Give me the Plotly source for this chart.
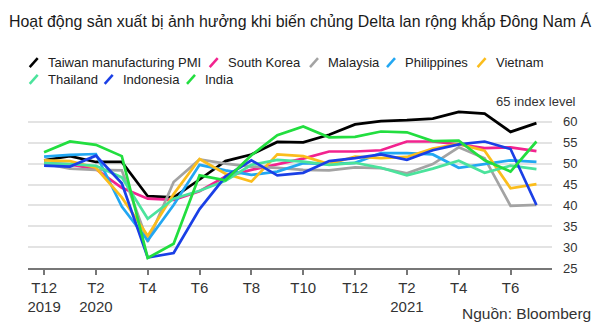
import plotly.graph_objects as go

months = ["2019-12", "2020-01", "2020-02", "2020-03", "2020-04", "2020-05", "2020-06",
          "2020-07", "2020-08", "2020-09", "2020-10", "2020-11", "2020-12", "2021-01",
          "2021-02", "2021-03", "2021-04", "2021-05", "2021-06", "2021-07"]

taiwan = [50.8, 51.8, 50.4, 50.4, 42.2, 41.9, 46.2, 50.6, 52.2, 55.2, 55.1, 56.9, 59.4, 60.2, 60.4, 60.8, 62.4, 62.0, 57.6, 59.7]
south_korea = [50.1, 49.8, 48.7, 44.2, 41.6, 41.3, 43.4, 46.9, 48.5, 49.8, 51.2, 52.9, 52.9, 53.2, 55.3, 55.3, 54.6, 53.7, 53.9, 53.0]
malaysia = [50.0, 48.8, 48.5, 48.4, 31.3, 45.6, 51.0, 50.0, 49.3, 49.0, 48.5, 48.4, 49.1, 48.9, 47.7, 49.9, 53.9, 51.3, 39.9, 40.1]
philippines = [51.7, 52.1, 52.3, 39.7, 31.6, 40.1, 49.7, 48.4, 47.3, 48.1, 50.1, 49.9, 50.2, 52.5, 52.5, 52.2, 49.0, 49.9, 50.8, 50.4]
vietnam = [50.8, 50.6, 49.0, 41.9, 32.7, 42.7, 51.1, 47.6, 45.7, 52.2, 51.8, 49.9, 51.7, 51.3, 51.6, 53.6, 54.7, 53.1, 44.1, 45.1]
thailand = [50.1, 49.9, 49.5, 46.7, 36.8, 41.6, 43.5, 45.9, 49.7, 50.9, 50.5, 49.7, 50.2, 49.0, 47.2, 48.8, 50.7, 47.8, 49.5, 48.7]
indonesia = [49.5, 49.3, 51.9, 45.3, 27.5, 28.6, 39.1, 46.9, 50.8, 47.2, 47.8, 50.6, 51.3, 52.2, 50.9, 53.2, 54.6, 55.3, 53.5, 40.1]
india = [52.7, 55.3, 54.5, 51.8, 27.4, 30.8, 47.2, 46.0, 52.0, 56.8, 58.9, 56.3, 56.4, 57.7, 57.5, 55.4, 55.5, 50.8, 48.1, 55.3]

series_names = ["Taiwan manufacturing PMI", "South Korea", "Malaysia", "Philippines", "Vietnam",
                "Thailand", "Indonesia", "India"]
series_values = [taiwan, south_korea, malaysia, philippines, vietnam, thailand, indonesia, india]
series_colors = ["#000000", "#f2238f", "#a3a3a3", "#22a7f2", "#fbbd1c", "#4be39c", "#1a3fe6", "#22de3f"]

x_tick_pos = [0, 2, 4, 6, 8, 10, 12, 14, 16, 18]
x_tick_text = ["T12<br>2019", "T2<br>2020", "T4", "T6", "T8", "T10", "T12", "T2<br>2021", "T4", "T6"]
y_tick_vals = [25, 30, 35, 40, 45, 50, 55, 60, 65]
y_tick_text = ["25", "30", "35", "40", "45", "50", "55", "60", ""]

title_text = "Hoạt động sản xuất bị ảnh hưởng khi biến chủng Delta lan rộng khắp Đông Nam Á"
source_text = "Nguồn: Bloomberg"
top_label = "65 index level"

W, H = 600, 333
L, R, T, B = 28, 48, 101, 65
PW, PH = W - L - R, H - T - B

def xp(px):
    return (px - L) / PW

def yp(py):
    return (H - B - py) / PH

xidx = list(range(len(months)))

fig = go.Figure()
for name, vals, col in zip(series_names, series_values, series_colors):
    fig.add_trace(go.Scatter(x=xidx, y=vals, mode="lines", name=name,
                             line=dict(color=col, width=2.7), showlegend=False,
                             customdata=months, hovertemplate="%{customdata}: %{y}<extra>" + name + "</extra>"))

# custom legend (slash glyphs + labels)
legend_text_x = [46.7, 226.7, 327, 404, 494.6, 46.7, 121.7, 204]
legend_row = [0, 0, 0, 0, 0, 1, 1, 1]
row_y = [62.7, 79.3]
shapes = []
annotations = []
for name, col, tx, r in zip(series_names, series_colors, legend_text_x, legend_row):
    yc = row_y[r]
    shapes.append(dict(type="line", xref="paper", yref="paper",
                       x0=xp(tx - 17), y0=yp(yc + 4.5), x1=xp(tx - 9), y1=yp(yc - 4.5),
                       line=dict(color=col, width=2.5)))
    annotations.append(dict(text=name, xref="paper", yref="paper", x=xp(tx), y=yp(yc),
                            xanchor="left", yanchor="middle", showarrow=False,
                            font=dict(family="Liberation Sans, Arial, sans-serif", size=13, color="#222"),
                            xshift=-1))

annotations.append(dict(text=top_label, xref="paper", yref="y", x=xp(580), y=65,
                        xanchor="right", yanchor="middle", showarrow=False, bgcolor="white",
                        borderpad=3,
                        font=dict(family="Liberation Sans, Arial, sans-serif", size=13, color="#333")))
annotations.append(dict(text=source_text, xref="paper", yref="paper", x=xp(593), y=yp(313),
                        xanchor="right", yanchor="middle", showarrow=False,
                        font=dict(family="Liberation Sans, Arial, sans-serif", size=15.5, color="#333")))

fig.update_layout(
    width=W, height=H,
    margin=dict(l=L, r=R, t=T, b=B),
    paper_bgcolor="white", plot_bgcolor="white",
    title=dict(text=title_text, x=9 / W, xanchor="left", xref="container",
               y=1 - 21 / H, yanchor="middle", yref="container",
               font=dict(family="Liberation Sans, Arial, sans-serif", size=15.9, color="#1a1a1a")),
    shapes=shapes,
    annotations=annotations,
    showlegend=False,
    xaxis=dict(range=[-0.62, 19.6], tickmode="array", tickvals=x_tick_pos, ticktext=x_tick_text,
               showgrid=False, zeroline=False, showline=True, linecolor="#777", linewidth=1.5,
               ticks="outside", ticklen=5, tickcolor="#777", tickwidth=1.5,
               tickfont=dict(family="Liberation Sans, Arial, sans-serif", size=15, color="#333")),
    yaxis=dict(range=[25, 65], side="right", tickmode="array", tickvals=y_tick_vals, ticktext=y_tick_text,
               showgrid=True, gridcolor="#e3e3e3", gridwidth=1.5, zeroline=False, showline=False,
               ticks="", ticklabelstandoff=10,
               tickfont=dict(family="Liberation Sans, Arial, sans-serif", size=13, color="#333")),
)

fig.write_html("out.html")
